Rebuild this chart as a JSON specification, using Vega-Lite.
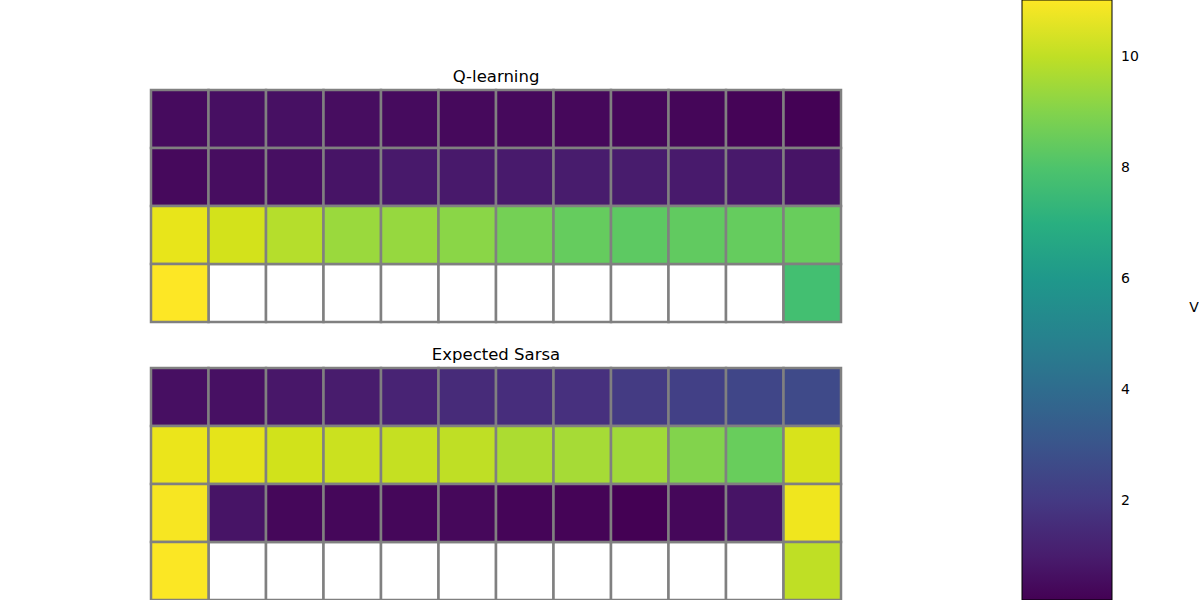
{
  "$schema": "https://vega.github.io/schema/vega-lite/v6.json",
  "padding": {"left": 149, "top": 0, "right": 0, "bottom": 0},
  "background": "white",
  "config": {
    "font": "DejaVu Sans",
    "view": {"stroke": null},
    "title": {"fontSize": 16.5, "fontWeight": "normal", "color": "black", "offset": 3, "font": "DejaVu Sans"}
  },
  "datasets": {
    "grid": [
      {"alg": "Q-learning", "row": 0, "col": 0, "v": 0.5},
      {"alg": "Q-learning", "row": 0, "col": 1, "v": 0.6},
      {"alg": "Q-learning", "row": 0, "col": 2, "v": 0.65},
      {"alg": "Q-learning", "row": 0, "col": 3, "v": 0.55},
      {"alg": "Q-learning", "row": 0, "col": 4, "v": 0.5},
      {"alg": "Q-learning", "row": 0, "col": 5, "v": 0.45},
      {"alg": "Q-learning", "row": 0, "col": 6, "v": 0.45},
      {"alg": "Q-learning", "row": 0, "col": 7, "v": 0.42},
      {"alg": "Q-learning", "row": 0, "col": 8, "v": 0.38},
      {"alg": "Q-learning", "row": 0, "col": 9, "v": 0.35},
      {"alg": "Q-learning", "row": 0, "col": 10, "v": 0.3},
      {"alg": "Q-learning", "row": 0, "col": 11, "v": 0.25},
      {"alg": "Q-learning", "row": 1, "col": 0, "v": 0.45},
      {"alg": "Q-learning", "row": 1, "col": 1, "v": 0.55},
      {"alg": "Q-learning", "row": 1, "col": 2, "v": 0.6},
      {"alg": "Q-learning", "row": 1, "col": 3, "v": 0.75},
      {"alg": "Q-learning", "row": 1, "col": 4, "v": 0.9},
      {"alg": "Q-learning", "row": 1, "col": 5, "v": 0.9},
      {"alg": "Q-learning", "row": 1, "col": 6, "v": 0.95},
      {"alg": "Q-learning", "row": 1, "col": 7, "v": 1.0},
      {"alg": "Q-learning", "row": 1, "col": 8, "v": 1.0},
      {"alg": "Q-learning", "row": 1, "col": 9, "v": 0.95},
      {"alg": "Q-learning", "row": 1, "col": 10, "v": 0.9},
      {"alg": "Q-learning", "row": 1, "col": 11, "v": 0.75},
      {"alg": "Q-learning", "row": 2, "col": 0, "v": 10.65},
      {"alg": "Q-learning", "row": 2, "col": 1, "v": 10.33},
      {"alg": "Q-learning", "row": 2, "col": 2, "v": 9.84},
      {"alg": "Q-learning", "row": 2, "col": 3, "v": 9.41},
      {"alg": "Q-learning", "row": 2, "col": 4, "v": 9.35},
      {"alg": "Q-learning", "row": 2, "col": 5, "v": 9.14},
      {"alg": "Q-learning", "row": 2, "col": 6, "v": 8.76},
      {"alg": "Q-learning", "row": 2, "col": 7, "v": 8.49},
      {"alg": "Q-learning", "row": 2, "col": 8, "v": 8.33},
      {"alg": "Q-learning", "row": 2, "col": 9, "v": 8.4},
      {"alg": "Q-learning", "row": 2, "col": 10, "v": 8.49},
      {"alg": "Q-learning", "row": 2, "col": 11, "v": 8.55},
      {"alg": "Q-learning", "row": 3, "col": 0, "v": 11.03},
      {"alg": "Q-learning", "row": 3, "col": 1, "v": null},
      {"alg": "Q-learning", "row": 3, "col": 2, "v": null},
      {"alg": "Q-learning", "row": 3, "col": 3, "v": null},
      {"alg": "Q-learning", "row": 3, "col": 4, "v": null},
      {"alg": "Q-learning", "row": 3, "col": 5, "v": null},
      {"alg": "Q-learning", "row": 3, "col": 6, "v": null},
      {"alg": "Q-learning", "row": 3, "col": 7, "v": null},
      {"alg": "Q-learning", "row": 3, "col": 8, "v": null},
      {"alg": "Q-learning", "row": 3, "col": 9, "v": null},
      {"alg": "Q-learning", "row": 3, "col": 10, "v": null},
      {"alg": "Q-learning", "row": 3, "col": 11, "v": 7.79},
      {"alg": "Expected Sarsa", "row": 0, "col": 0, "v": 0.6},
      {"alg": "Expected Sarsa", "row": 0, "col": 1, "v": 0.65},
      {"alg": "Expected Sarsa", "row": 0, "col": 2, "v": 0.85},
      {"alg": "Expected Sarsa", "row": 0, "col": 3, "v": 1.0},
      {"alg": "Expected Sarsa", "row": 0, "col": 4, "v": 1.25},
      {"alg": "Expected Sarsa", "row": 0, "col": 5, "v": 1.5},
      {"alg": "Expected Sarsa", "row": 0, "col": 6, "v": 1.6},
      {"alg": "Expected Sarsa", "row": 0, "col": 7, "v": 1.7},
      {"alg": "Expected Sarsa", "row": 0, "col": 8, "v": 2.06},
      {"alg": "Expected Sarsa", "row": 0, "col": 9, "v": 2.25},
      {"alg": "Expected Sarsa", "row": 0, "col": 10, "v": 2.45},
      {"alg": "Expected Sarsa", "row": 0, "col": 11, "v": 2.6},
      {"alg": "Expected Sarsa", "row": 1, "col": 0, "v": 10.7},
      {"alg": "Expected Sarsa", "row": 1, "col": 1, "v": 10.6},
      {"alg": "Expected Sarsa", "row": 1, "col": 2, "v": 10.3},
      {"alg": "Expected Sarsa", "row": 1, "col": 3, "v": 10.2},
      {"alg": "Expected Sarsa", "row": 1, "col": 4, "v": 10.1},
      {"alg": "Expected Sarsa", "row": 1, "col": 5, "v": 10.0},
      {"alg": "Expected Sarsa", "row": 1, "col": 6, "v": 9.7},
      {"alg": "Expected Sarsa", "row": 1, "col": 7, "v": 9.6},
      {"alg": "Expected Sarsa", "row": 1, "col": 8, "v": 9.5},
      {"alg": "Expected Sarsa", "row": 1, "col": 9, "v": 9.0},
      {"alg": "Expected Sarsa", "row": 1, "col": 10, "v": 8.55},
      {"alg": "Expected Sarsa", "row": 1, "col": 11, "v": 10.4},
      {"alg": "Expected Sarsa", "row": 2, "col": 0, "v": 10.93},
      {"alg": "Expected Sarsa", "row": 2, "col": 1, "v": 0.75},
      {"alg": "Expected Sarsa", "row": 2, "col": 2, "v": 0.38},
      {"alg": "Expected Sarsa", "row": 2, "col": 3, "v": 0.4},
      {"alg": "Expected Sarsa", "row": 2, "col": 4, "v": 0.4},
      {"alg": "Expected Sarsa", "row": 2, "col": 5, "v": 0.42},
      {"alg": "Expected Sarsa", "row": 2, "col": 6, "v": 0.33},
      {"alg": "Expected Sarsa", "row": 2, "col": 7, "v": 0.3},
      {"alg": "Expected Sarsa", "row": 2, "col": 8, "v": 0.22},
      {"alg": "Expected Sarsa", "row": 2, "col": 9, "v": 0.38},
      {"alg": "Expected Sarsa", "row": 2, "col": 10, "v": 0.75},
      {"alg": "Expected Sarsa", "row": 2, "col": 11, "v": 10.8},
      {"alg": "Expected Sarsa", "row": 3, "col": 0, "v": 11.0},
      {"alg": "Expected Sarsa", "row": 3, "col": 1, "v": null},
      {"alg": "Expected Sarsa", "row": 3, "col": 2, "v": null},
      {"alg": "Expected Sarsa", "row": 3, "col": 3, "v": null},
      {"alg": "Expected Sarsa", "row": 3, "col": 4, "v": null},
      {"alg": "Expected Sarsa", "row": 3, "col": 5, "v": null},
      {"alg": "Expected Sarsa", "row": 3, "col": 6, "v": null},
      {"alg": "Expected Sarsa", "row": 3, "col": 7, "v": null},
      {"alg": "Expected Sarsa", "row": 3, "col": 8, "v": null},
      {"alg": "Expected Sarsa", "row": 3, "col": 9, "v": null},
      {"alg": "Expected Sarsa", "row": 3, "col": 10, "v": null},
      {"alg": "Expected Sarsa", "row": 3, "col": 11, "v": 10.0}
    ]
  },
  "spacing": 23,
  "vconcat": [
    {
      "title": "Q-learning",
      "width": 690,
      "height": 232,
      "data": {"name": "grid"},
      "transform": [{"filter": "datum.alg === 'Q-learning'"}],
      "encoding": {
        "x": {"field": "col", "type": "ordinal", "axis": null, "scale": {"paddingInner": 0, "paddingOuter": 0}},
        "y": {"field": "row", "type": "ordinal", "axis": null, "scale": {"paddingInner": 0, "paddingOuter": 0}}
      },
      "layer": [
        {
          "transform": [{"filter": "datum.v == null"}],
          "mark": {"type": "rect", "fill": "white", "stroke": "#808080", "strokeWidth": 2.5}
        },
        {
          "transform": [{"filter": "datum.v != null"}],
          "mark": {"type": "rect", "stroke": "#808080", "strokeWidth": 2.5},
          "encoding": {
            "color": {"field": "v", "type": "quantitative", "title": "V",
              "scale": {"scheme": "viridis", "domain": [0.22, 11.03]},
              "legend": {"orient": "none", "legendX": 871, "legendY": -90, "direction": "vertical",
                "gradientLength": 600, "gradientThickness": 90, "gradientStrokeColor": "black", "gradientStrokeWidth": 1,
                "values": [2, 4, 6, 8, 10], "labelFontSize": 14, "labelColor": "black", "labelOffset": 9, "labelFont": "DejaVu Sans",
                "titleOrient": "right", "titleAnchor": "middle", "titleFontSize": 14, "titleFontWeight": "normal", "titleColor": "black", "titlePadding": 55, "titleBaseline": "middle", "titleFont": "DejaVu Sans",
                "encode": {"title": {"update": {"angle": {"value": 0}, "dy": {"value": 8}}}}}
            }
          }
        }
      ]
    },
    {
      "title": "Expected Sarsa",
      "width": 690,
      "height": 232,
      "data": {"name": "grid"},
      "transform": [{"filter": "datum.alg === 'Expected Sarsa'"}],
      "encoding": {
        "x": {"field": "col", "type": "ordinal", "axis": null, "scale": {"paddingInner": 0, "paddingOuter": 0}},
        "y": {"field": "row", "type": "ordinal", "axis": null, "scale": {"paddingInner": 0, "paddingOuter": 0}}
      },
      "layer": [
        {
          "transform": [{"filter": "datum.v == null"}],
          "mark": {"type": "rect", "fill": "white", "stroke": "#808080", "strokeWidth": 2.5}
        },
        {
          "transform": [{"filter": "datum.v != null"}],
          "mark": {"type": "rect", "stroke": "#808080", "strokeWidth": 2.5},
          "encoding": {
            "color": {"field": "v", "type": "quantitative", "title": "V",
              "scale": {"scheme": "viridis", "domain": [0.22, 11.03]}}
          }
        }
      ]
    }
  ]
}
